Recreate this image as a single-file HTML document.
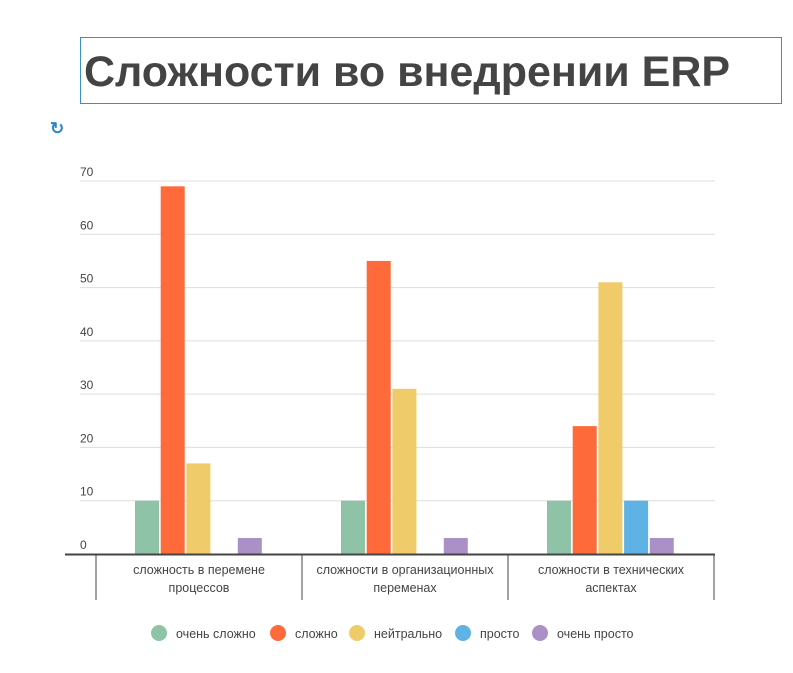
<!DOCTYPE html>
<html><head><meta charset="utf-8"><style>
body{margin:0;background:#fff;font-family:"Liberation Sans",sans-serif;}
#wrap{position:relative;width:793px;height:673px;overflow:hidden}
#title{position:absolute;left:80px;top:37px;width:697px;height:65px;border:1px solid #3a8fc4;font-weight:bold;font-size:43px;color:#444;line-height:68px;padding-left:3px;box-sizing:content-box;white-space:nowrap}
#refresh{position:absolute;left:50px;top:119px;color:#2a88c8;font-size:17px;font-weight:bold}
</style></head><body>
<div id="wrap">
<div id="title">Сложности во внедрении ERP</div>
<div id="refresh">↻</div>
<svg id="chart" width="793" height="673" style="position:absolute;left:0;top:0"></svg>
</div>
<script>
const categories=[["сложность в перемене","процессов"],["сложности в организационных","переменах"],["сложности в технических","аспектах"]];
const seriesNames=["очень сложно","сложно","нейтрально","просто","очень просто"];
const seriesColors=["#8fc3a7","#fe6a39","#f0cb69","#5fb3e4","#ab90c7"];
const veryHard=[10,10,10];
const hard=[69,55,24];
const neutral=[17,31,51];
const easy=[0,0,10];
const veryEasy=[3,3,3];
const yTicks=[0,10,20,30,40,50,60,70];
const series=[veryHard,hard,neutral,easy,veryEasy];
const NS="http://www.w3.org/2000/svg";
const svg=document.getElementById('chart');
const x0=96,groupW=206,y0=554,yMax=70,yTop=181;
const y=v=>y0-(v/yMax)*(y0-yTop);
const bx=(g,s)=>x0+g*groupW+39+s*25.7;
function mk(t,a){const e=document.createElementNS(NS,t);for(const k in a)e.setAttribute(k,a[k]);svg.appendChild(e);return e;}
yTicks.forEach(t=>{
 if(t>0){const l=mk('line',{x1:80,x2:715,y1:y(t),y2:y(t),stroke:'#ddd','stroke-width':1});
 
 }
 const tx=mk('text',{x:80,y:y(t)-5,'font-size':12,fill:'#444'});tx.textContent=t;
 
 
});
series.forEach((arr,s)=>arr.forEach((v,g)=>{
 if(v<=0)return;
 const r=mk('rect',{x:bx(g,s),y:y(v),width:24,height:y0-y(v),fill:seriesColors[s]});
 
 
}));
const ax=mk('line',{x1:65,x2:715,y1:y0+0.5,y2:y0+0.5,stroke:'#444','stroke-width':2});


for(let i=0;i<=3;i++){const d=mk('line',{x1:x0+i*groupW,x2:x0+i*groupW,y1:y0,y2:600,stroke:'#444','stroke-width':1});
 
 }
categories.forEach((c,g)=>c.forEach((ln,j)=>{
 const t=mk('text',{x:x0+g*groupW+groupW/2,y:574+j*18,'font-size':12.5,fill:'#444','text-anchor':'middle'});t.textContent=ln;
 
 
}));
const lx=[159,278,357,463,540];
seriesNames.forEach((n,s)=>{
 const c=mk('circle',{cx:lx[s],cy:633,r:8,fill:seriesColors[s]});
 
 
 const t=mk('text',{x:lx[s]+17,y:638,'font-size':12.5,fill:'#444'});t.textContent=n;
 
 
});
</script>
</body></html>
